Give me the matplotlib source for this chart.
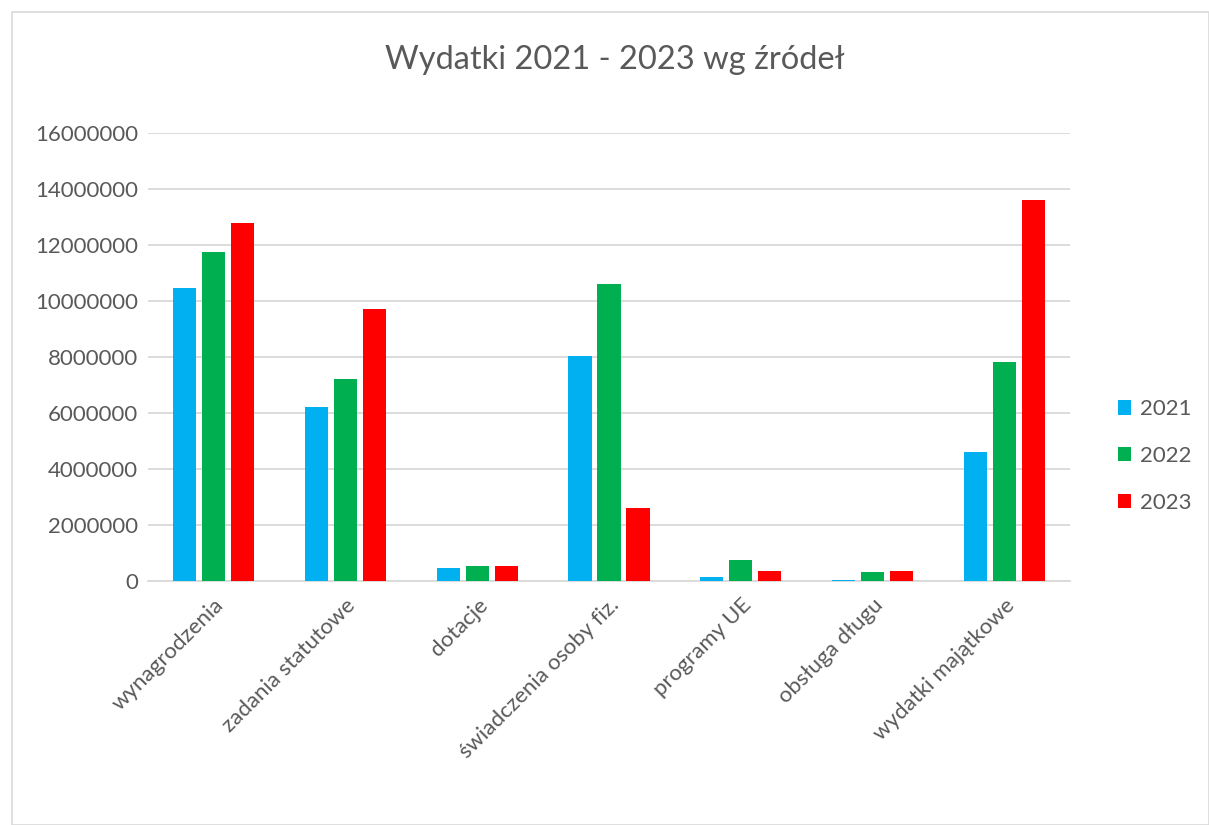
import matplotlib
matplotlib.use("Agg")
import matplotlib.pyplot as plt
import numpy as np
from matplotlib.patches import Rectangle

categories = ["wynagrodzenia", "zadania statutowe", "dotacje", "świadczenia osoby fiz.",
              "programy UE", "obsługa długu", "wydatki majątkowe"]
years = ["2021", "2022", "2023"]
v2021 = [10460000, 6200000, 480000, 8040000, 130000, 50000, 4620000]
v2022 = [11750000, 7200000, 540000, 10600000, 750000, 330000, 7810000]
v2023 = [12770000, 9710000, 540000, 2600000, 350000, 370000, 13610000]
colors = ["#00b0f0", "#00b050", "#ff0000"]
yticks = [0, 2000000, 4000000, 6000000, 8000000, 10000000, 12000000, 14000000, 16000000]

plt.rcParams['font.family'] = ['Lato', 'DejaVu Sans']
txt = "#595959"
fs = 16

fig = plt.figure(figsize=(12.09, 8.25), dpi=100)
fig.patches.append(Rectangle((12/1209, 0), 1 - 12/1209, 1 - 12/825, transform=fig.transFigure,
                             fill=False, edgecolor="#d9d9d9", linewidth=1.2))
ax = fig.add_axes([148/1209, 1 - 581/825, (1070 - 148)/1209, (581 - 133)/825])

x = np.arange(len(categories))
w = 0.175
off = 0.22
for i, (vals, c, lab) in enumerate(zip([v2021, v2022, v2023], colors, years)):
    ax.bar(x + (i - 1) * off, vals, width=w, color=c, label=lab, zorder=3)

ax.set_xlim(-0.5, len(categories) - 0.5)
ax.set_ylim(0, 16000000)
ax.set_yticks(yticks)
ax.set_yticklabels([str(v) for v in yticks], fontsize=fs, color=txt)
ax.yaxis.grid(True, color="#d9d9d9", linewidth=1.3, zorder=0)
ax.set_xticks(x)
ax.set_xticklabels(categories, rotation=45, ha="right", rotation_mode="anchor",
                   fontsize=fs, color=txt)
ax.tick_params(axis="both", length=0)
ax.tick_params(axis="x", pad=10)
ax.tick_params(axis="y", pad=7)
for s in ["top", "right", "left"]:
    ax.spines[s].set_visible(False)
ax.spines["bottom"].set_color("#d9d9d9")
ax.spines["bottom"].set_linewidth(1.3)

fig.text(615/1209, 1 - 60/825, "Wydatki 2021 - 2023 wg źródeł", ha="center", va="center",
         fontsize=23.5, color=txt)

leg = ax.legend(loc="center left", bbox_to_anchor=((1118 - 148) / 922, (581 - 456) / 448),
                frameon=False, fontsize=fs, handlelength=0.6, handleheight=0.6,
                labelspacing=1.2, handletextpad=0.4, borderpad=0, borderaxespad=0)
for t in leg.get_texts():
    t.set_color(txt)

fig.savefig("out.png", dpi=100)
